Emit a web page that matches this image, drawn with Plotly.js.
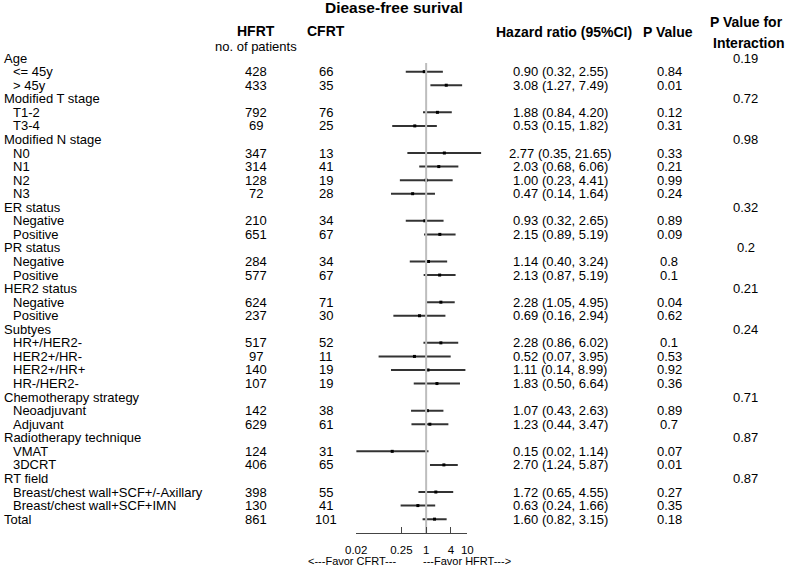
<!DOCTYPE html>
<html>
<head>
<meta charset="utf-8">
<script src="https://cdn.plot.ly/plotly-3.0.1.min.js"></script>
<style>html,body{margin:0;padding:0;background:#fff;}#chart{width:787px;height:568px;}</style>
</head>
<body>
<div id="chart"></div>
<script>
// ---------------- DATA ----------------
const rowLabels = ["Age","<= 45y","> 45y","Modified T stage","T1-2","T3-4","Modified N stage","N0","N1","N2","N3",
  "ER status","Negative","Positive","PR status","Negative","Positive","HER2 status","Negative","Positive",
  "Subtyes","HR+/HER2-","HER2+/HR-","HER2+/HR+","HR-/HER2-","Chemotherapy strategy","Neoadjuvant","Adjuvant",
  "Radiotherapy technique","VMAT","3DCRT","RT field","Breast/chest wall+SCF+/-Axillary","Breast/chest wall+SCF+IMN","Total"];
const isGroup = [1,0,0,1,0,0,1,0,0,0,0,1,0,0,1,0,0,1,0,0,1,0,0,0,0,1,0,0,1,0,0,1,0,0,1];
const hfrtN = [null,428,433,null,792,69,null,347,314,128,72,null,210,651,null,284,577,null,624,237,
  null,517,97,140,107,null,142,629,null,124,406,null,398,130,861];
const cfrtN = [null,66,35,null,76,25,null,13,41,19,28,null,34,67,null,34,67,null,71,30,
  null,52,11,19,19,null,38,61,null,31,65,null,55,41,101];
const hr = [null,0.90,3.08,null,1.88,0.53,null,2.77,2.03,1.00,0.47,null,0.93,2.15,null,1.14,2.13,null,2.28,0.69,
  null,2.28,0.52,1.11,1.83,null,1.07,1.23,null,0.15,2.70,null,1.72,0.63,1.60];
const ciLow = [null,0.32,1.27,null,0.84,0.15,null,0.35,0.68,0.23,0.14,null,0.32,0.89,null,0.40,0.87,null,1.05,0.16,
  null,0.86,0.07,0.14,0.50,null,0.43,0.44,null,0.02,1.24,null,0.65,0.24,0.82];
const ciHigh = [null,2.55,7.49,null,4.20,1.82,null,21.65,6.06,4.41,1.64,null,2.65,5.19,null,3.24,5.19,null,4.95,2.94,
  null,6.02,3.95,8.99,6.64,null,2.63,3.47,null,1.14,5.87,null,4.55,1.66,3.15];
const pValue = [null,"0.84","0.01",null,"0.12","0.31",null,"0.33","0.21","0.99","0.24",null,"0.89","0.09",null,"0.8","0.1",
  null,"0.04","0.62",null,"0.1","0.53","0.92","0.36",null,"0.89","0.7",null,"0.07","0.01",null,"0.27","0.35","0.18"];
const pInteraction = ["0.19",null,null,"0.72",null,null,"0.98",null,null,null,null,"0.32",null,null,"0.2",null,null,
  "0.21",null,null,"0.24",null,null,null,null,"0.71",null,null,"0.87",null,null,"0.87",null,null,null];
const tickValues = [0.02,0.25,1,4,10];
const tickLabels = ["0.02","0.25","1","4","10"];

// ---------------- LAYOUT CONSTANTS ----------------
const W = 787, H = 568;
const px = v => v / W;
const py = v => 1 - v / H;
const row0 = 58.1, rowH = 13.56;          // pixel y of row 0 and row spacing
const rowOf = pix => (pix - row0) / rowH;
const FONT = "Liberation Sans, Arial, sans-serif";
const axisPix = 533.3;
const xLeft = 356.2, xTen = 467.3;
const pxPerDec = (xTen - xLeft) / (Math.log10(10) - Math.log10(0.02));
const mainMax = 1.45;
const mainRight = xLeft + (mainMax - Math.log10(0.02)) * pxPerDec;

const rows = rowLabels.map((_, i) => i);

// ---------------- TRACES ----------------
const segX = [], segY = [];
rows.forEach(i => { if (hr[i] != null) { segX.push(ciLow[i], ciHigh[i], null); segY.push(i, i, null); } });
const ptX = [], ptY = [];
rows.forEach(i => { if (hr[i] != null) { ptX.push(hr[i]); ptY.push(i); } });

const traces = [
  { type: 'scatter', mode: 'lines', xaxis: 'x2', yaxis: 'y', x: [1, 1], y: [0.37, rowOf(axisPix)],
    line: { color: '#bdbdbd', width: 2 }, hoverinfo: 'skip', showlegend: false },
  { type: 'scatter', mode: 'lines', x: segX, y: segY, line: { color: '#333333', width: 2 },
    hoverinfo: 'skip', showlegend: false, connectgaps: false },
  { type: 'scatter', mode: 'markers', x: ptX, y: ptY,
    marker: { symbol: 'square', size: 3, color: '#000' }, hoverinfo: 'skip', showlegend: false, cliponaxis: false }
];

// ---------------- ANNOTATIONS ----------------
const ann = [];
const txt = (text, x, y, xanchor, size, yref) => ann.push({
  text, x: px(x), xref: 'paper', y, yref: yref || 'y', xanchor: xanchor || 'center', yanchor: 'middle',
  showarrow: false, font: { family: FONT, size: size || 13, color: '#000' }, borderpad: 0
});
rows.forEach(i => {
  txt(rowLabels[i], isGroup[i] ? 3 : 12, i, 'left');
  if (hfrtN[i] != null) txt(String(hfrtN[i]), 256, i);
  if (cfrtN[i] != null) txt(String(cfrtN[i]), 326, i);
  if (hr[i] != null) txt(hr[i].toFixed(2) + ' (' + ciLow[i].toFixed(2) + ', ' + ciHigh[i].toFixed(2) + ')', 560, i);
  if (pValue[i] != null) txt(pValue[i], 669, i);
  if (pInteraction[i] != null) txt(pInteraction[i], 745.5, i);
});
// headers
txt('<b>Diease-free surival</b>', 394, py(8), 'center', 15.5, 'paper');
txt('<b>HFRT</b>', 255.5, py(31), 'center', 14, 'paper');
txt('no. of patients', 256, py(46), 'center', 13, 'paper');
txt('<b>CFRT</b>', 326, py(31), 'center', 14, 'paper');
txt('<b>Hazard ratio (95%CI)</b>', 564, py(32), 'center', 14, 'paper');
txt('<b>P Value</b>', 668, py(32), 'center', 14, 'paper');
txt('<b>P Value for</b>', 746, py(21.5), 'center', 14, 'paper');
txt('<b>Interaction</b>', 749, py(42.5), 'center', 14, 'paper');
txt('&lt;---Favor CFRT---', 397, py(561), 'right', 11, 'paper');
txt('---Favor HFRT---&gt;', 422, py(561), 'left', 11, 'paper');

const layout = {
  width: W, height: H,
  margin: { l: 0, r: 0, t: 0, b: 0, pad: 0 },
  paper_bgcolor: '#fff', plot_bgcolor: 'rgba(0,0,0,0)',
  showlegend: false,
  font: { family: FONT },
  xaxis: { type: 'log', domain: [px(xLeft), px(mainRight)], range: [Math.log10(0.02), mainMax],
    visible: false, fixedrange: true },
  xaxis2: { type: 'log', domain: [px(xLeft), px(xTen)], range: [Math.log10(0.02), 1],
    anchor: 'free', position: py(axisPix),
    showline: true, linecolor: '#444', linewidth: 1, showgrid: false, zeroline: false,
    ticks: 'inside', ticklen: 6, tickcolor: '#444', tickwidth: 1,
    tickmode: 'array', tickvals: tickValues, ticktext: tickLabels,
    tickfont: { family: FONT, size: 11.5, color: '#000' }, ticklabelstandoff: 6, fixedrange: true },
  yaxis: { domain: [0, 1], range: [(H - row0) / rowH, -row0 / rowH], visible: false, fixedrange: true },
  annotations: ann
};

Plotly.newPlot('chart', traces, layout, { staticPlot: true, displayModeBar: false });
</script>
</body>
</html>
